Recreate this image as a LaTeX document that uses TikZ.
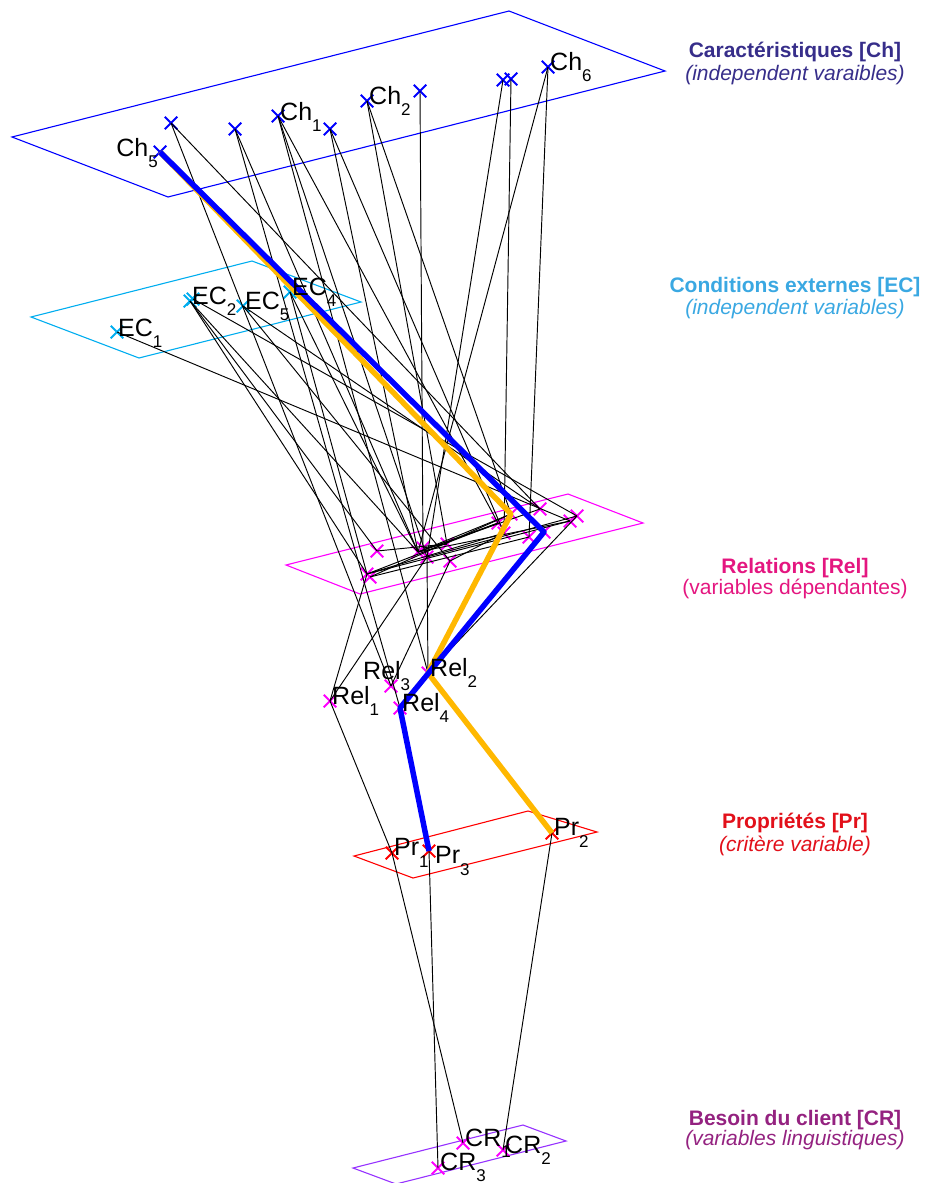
\documentclass[tikz,border=0pt]{standalone}
\usepackage{fontspec}
\setmainfont{Liberation Sans}
\usetikzlibrary{shapes.misc}
\definecolor{chtxt}{RGB}{55,46,138}
\definecolor{ectxt}{RGB}{58,168,226}
\definecolor{reltxt}{RGB}{228,22,128}
\definecolor{prtxt}{RGB}{226,16,26}
\definecolor{crtxt}{RGB}{148,34,128}
\definecolor{crplane}{RGB}{150,50,255}
\definecolor{mgt}{RGB}{255,0,255}
\definecolor{routeorange}{RGB}{255,184,0}
\newcommand{\lbl}[2]{#1\raisebox{-0.45em}{\fontsize{17}{17}\selectfont #2}}

\begin{document}
\begin{tikzpicture}[x=1pt,y=-1pt,
  crossmk/.style={cross out,draw,minimum size=10.5pt,inner sep=0pt,line width=2pt},
  chmk/.style={crossmk,draw=blue},
  ecmk/.style={crossmk,draw=cyan},
  relmk/.style={crossmk,draw=mgt},
  prmk/.style={crossmk,draw=red},
  crmk/.style={crossmk,draw=mgt},
  plane/.style={line width=1.1pt,line join=miter},
  link/.style={line width=0.95pt},
  route/.style={line width=5.5pt,line join=round},
  lab/.style={anchor=west,inner sep=0pt,font=\fontsize{25}{25}\selectfont},
  ttl/.style={anchor=base,inner sep=0pt,font=\fontsize{21}{24}\selectfont\bfseries},
  subttl/.style={anchor=base,inner sep=0pt,font=\fontsize{21}{24}\selectfont\itshape}]
\useasboundingbox (0,0) rectangle (924,1183);

\draw[plane,blue] (12,137) -- (509,11) -- (665,71) -- (168,197) -- cycle;
\draw[plane,cyan] (31,317) -- (252,261) -- (361,302) -- (139,358) -- cycle;
\draw[plane,mgt] (286,565) -- (568,494) -- (643,523) -- (360,594) -- cycle;
\draw[plane,red] (354,856) -- (528,811) -- (597,832) -- (413,878) -- cycle;
\draw[plane,crplane] (353,1168) -- (523,1125) -- (566,1141) -- (396,1184) -- cycle;

\node[chmk] (ch5) at (160,152) {};
\node[chmk] (cha) at (171,123) {};
\node[chmk] (chb) at (235,129) {};
\node[chmk] (ch1) at (278,116) {};
\node[chmk] (chc) at (330,129) {};
\node[chmk] (ch2) at (367,101) {};
\node[chmk] (chd) at (420,91) {};
\node[chmk] (che) at (503,80) {};
\node[chmk] (chf) at (511,79) {};
\node[chmk] (ch6) at (548,67) {};

\node[ecmk] (ec1) at (117,332) {};
\node[ecmk] (ec2) at (190,301) {};
\node[ecmk] (ec3) at (193,299) {};
\node[ecmk] (ec5) at (243,306) {};
\node[ecmk] (ec4) at (290,292) {};

\node[relmk] (ra) at (377,551) {};
\node[relmk] (rb) at (418,552) {};
\node[relmk] (rb2) at (423,548) {};
\node[relmk] (rb3) at (427,557) {};
\node[relmk] (rc) at (447,544) {};
\node[relmk] (rd) at (450,561) {};
\node[relmk] (re) at (367,574) {};
\node[relmk] (re2) at (370,577) {};
\node[relmk] (rf) at (498,523) {};
\node[relmk] (rg) at (511,514) {};
\node[relmk] (rh) at (504,533) {};
\node[relmk] (ri) at (529,537) {};
\node[relmk] (rj) at (540,509) {};
\node[relmk] (rk) at (544,532) {};
\node[relmk] (rl) at (570,521) {};
\node[relmk] (rm) at (577,516) {};

\node[relmk] (rel1) at (330,701) {};
\node[relmk] (rel2) at (428,673) {};
\node[relmk] (rel3) at (391,686) {};
\node[relmk] (rel4) at (400,708) {};

\node[prmk] (pr1) at (392,853) {};
\node[prmk] (pr2) at (552,833) {};
\node[prmk] (pr3) at (429,851) {};

\node[crmk] (cr1) at (463,1143) {};
\node[crmk] (cr2) at (503,1150) {};
\node[crmk] (cr3) at (438,1168) {};

\draw[link] (cha.center) -- (rj.center);
\draw[link] (cha.center) -- (rel3.center);
\draw[link] (chb.center) -- (rel4.center);
\draw[link] (chb.center) -- (rb.center);
\draw[link] (ch1.center) -- (rel2.center);
\draw[link] (ch1.center) -- (rb3.center);
\draw[link] (ch1.center) -- (rf.center);
\draw[link] (chc.center) -- (rh.center);
\draw[link] (chc.center) -- (rb.center);
\draw[link] (ch2.center) -- (rc.center);
\draw[link] (ch2.center) -- (rg.center);
\draw[link] (chd.center) -- (rb2.center);
\draw[link] (che.center) -- (rb3.center);
\draw[link] (chf.center) -- (rh.center);
\draw[link] (ch6.center) -- (ri.center);
\draw[link] (ch6.center) -- (rb.center);
\draw[link] (ec1.center) -- (rl.center);
\draw[link] (ec2.center) -- (re.center);
\draw[link] (ec2.center) -- (ra.center);
\draw[link] (ec2.center) -- (rb.center);
\draw[link] (ec3.center) -- (rm.center);
\draw[link] (ec5.center) -- (rj.center);
\draw[link] (ec5.center) -- (rd.center);
\draw[link] (ec4.center) -- (rb.center);
\draw[link] (ec4.center) -- (re.center);
\draw[link] (re.center) -- (rf.center);
\draw[link] (re.center) -- (rh.center);
\draw[link] (re.center) -- (rl.center);
\draw[link] (re2.center) -- (ri.center);
\draw[link] (re2.center) -- (rg.center);
\draw[link] (rb.center) -- (rf.center);
\draw[link] (rb.center) -- (rg.center);
\draw[link] (rb.center) -- (rl.center);
\draw[link] (rb.center) -- (rj.center);
\draw[link] (rb2.center) -- (rc.center);
\draw[link] (ra.center) -- (rc.center);
\draw[link] (rb3.center) -- (rm.center);
\draw[link] (rd.center) -- (rh.center);
\draw[link] (re.center) -- (rel1.center);
\draw[link] (rb3.center) -- (rel1.center);
\draw[link] (rd.center) -- (rel3.center);
\draw[link] (rb3.center) -- (rel2.center);
\draw[link] (rm.center) -- (rel2.center);
\draw[link] (rel1.center) -- (pr1.center);
\draw[link] (rel4.center) -- (pr3.center);
\draw[link] (rel2.center) -- (pr2.center);
\draw[link] (pr1.center) -- (cr1.center);
\draw[link] (pr3.center) -- (cr3.center);
\draw[link] (pr2.center) -- (cr2.center);

\draw[route,routeorange] (ch5.center) -- (rg.center) -- (rel2.center) -- (pr2.center);
\draw[route,blue] (ch5.center) -- (rk.center) -- (rel4.center) -- (pr3.center);

\node[lab,anchor=east] (lch5) at (158,153) {\lbl{Ch}{5}};
\node[lab] (lch1) at (280,117) {\lbl{Ch}{1}};
\node[lab] (lch2) at (369,101) {\lbl{Ch}{2}};
\node[lab] (lch6) at (550,67) {\lbl{Ch}{6}};
\node[lab] (lec1) at (118,333) {\lbl{EC}{1}};
\node[lab] (lec2) at (192,301) {\lbl{EC}{2}};
\node[lab] (lec5) at (245,306) {\lbl{EC}{5}};
\node[lab] (lec4) at (292,292) {\lbl{EC}{4}};
\node[lab] (lrel1) at (332,701) {\lbl{Rel}{1}};
\node[lab] (lrel2) at (430,673) {\lbl{Rel}{2}};
\node[lab] (lrel3) at (363,676) {\lbl{Rel}{3}};
\node[lab] (lrel4) at (402,708) {\lbl{Rel}{4}};
\node[lab] (lpr1) at (394,853) {\lbl{Pr}{1}};
\node[lab] (lpr2) at (554,833) {\lbl{Pr}{2}};
\node[lab] (lpr3) at (435,861) {\lbl{Pr}{3}};
\node[lab] (lcr1) at (465,1143) {\lbl{CR}{1}};
\node[lab] (lcr2) at (505,1150) {\lbl{CR}{2}};
\node[lab] (lcr3) at (440,1167) {\lbl{CR}{3}};

\node[ttl,text=chtxt] (tch) at (795,57) {Caractéristiques [Ch]};
\node[subttl,text=chtxt] (sch) at (795,80) {(independent varaibles)};
\node[ttl,text=ectxt] (tec) at (795,292) {Conditions externes [EC]};
\node[subttl,text=ectxt] (sec) at (795,314) {(independent variables)};
\node[ttl,text=reltxt] (trel) at (795,573) {Relations [Rel]};
\node[anchor=base,inner sep=0pt,font=\fontsize{21}{24}\selectfont,text=reltxt] (srel) at (795,594) {(variables dépendantes)};
\node[ttl,text=prtxt] (tpr) at (795,828) {Propriétés [Pr]};
\node[subttl,text=prtxt] (spr) at (795,851) {(critère variable)};
\node[ttl,text=crtxt] (tcr) at (795,1125) {Besoin du client [CR]};
\node[subttl,text=crtxt] (scr) at (795,1145) {(variables linguistiques)};
\end{tikzpicture}
\end{document}
